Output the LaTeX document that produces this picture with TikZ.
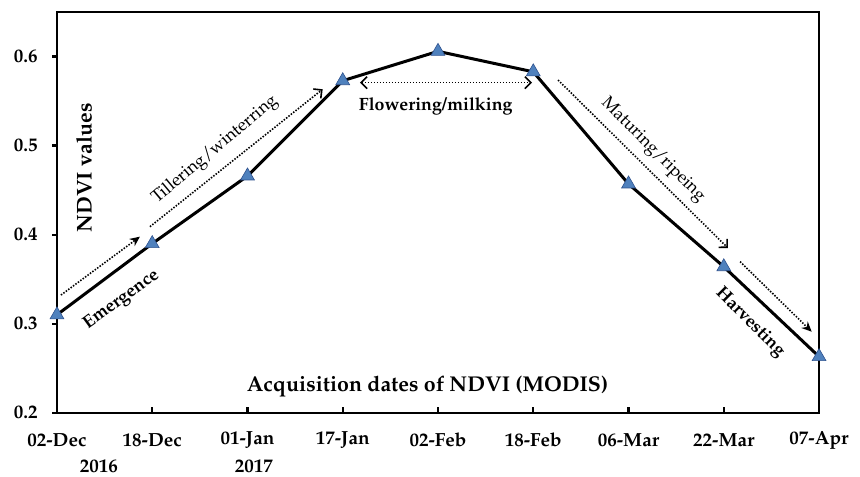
\documentclass[tikz,border=0pt]{standalone}
\usepackage[T1]{fontenc}
\usepackage{mathpazo}
\usetikzlibrary{arrows.meta,shapes.geometric}
\definecolor{markerblue}{RGB}{79,129,189}
\definecolor{markeredge}{RGB}{47,82,143}
\tikzset{
	axisline/.style={line width=1.2pt},
	ndviline/.style={line width=1.5pt, line join=round},
	marker/.style={regular polygon, regular polygon sides=3, minimum size=8pt, inner sep=0pt,
		fill=markerblue, draw=markeredge, line width=0.3pt},
	phase/.style={line width=0.8pt, dash pattern=on 0.75pt off 0.75pt},
	solidtip/.style={-{Stealth[length=5pt,width=4.5pt]}},
	opentip/.style={-{Straight Barb[length=3pt,width=6pt,line width=0.8pt]}},
	bothtip/.style={{Straight Barb[length=3pt,width=6pt,line width=0.8pt]}-{Straight Barb[length=3pt,width=6pt,line width=0.8pt]}},
	ticklabel/.style={inner sep=0pt, font=\fontsize{9.5}{11}\selectfont\bfseries},
	phaselabel/.style={inner sep=0pt, font=\fontsize{8.7}{10}\selectfont},
	boldlabel/.style={inner sep=0pt, font=\fontsize{8.9}{10}\selectfont\bfseries},
	axistitle/.style={inner sep=0pt, font=\fontsize{10.7}{13}\selectfont\bfseries}
}

\begin{document}
\begin{tikzpicture}[x=47.625pt, y=445pt]
		%%%%% START %%%%%
		\useasboundingbox (-0.598,0.1289) rectangle (8.430,0.6637);
		
		% frame and ticks
		\draw[axisline] (0,0.2) rectangle (8,0.65);
		\foreach \v [count=\i] in {0.2,0.3,0.4,0.5,0.6} {
			\draw[axisline] (0,\v) -- ++(-2.5pt,0);
			\node[ticklabel, anchor=east] (ylab\i) at (0,\v) [xshift=-9.5pt] {\v};
		}
		\foreach \d [count=\i from 0] in {02-Dec,18-Dec,01-Jan,17-Jan,02-Feb,18-Feb,06-Mar,22-Mar,07-Apr} {
			\draw[axisline] (\i,0.2) -- ++(0,3pt);
			\node[ticklabel] (xlab\i) at (\i,0.2) [yshift=-13.7pt] {\d};
		}
		\node[ticklabel] (yr16) at (0.441,0.2) [yshift=-27pt] {2016};
		\node[ticklabel] (yr17) at (2.068,0.2) [yshift=-27pt] {2017};
		
		\node[axistitle, rotate=90] (ytitle) at (0.283,0.475) {NDVI values};
		\node[axistitle] (xtitle) at (3.89,0.2289) {Acquisition dates of NDVI (MODIS)};
		
		% ndvi curve
		\foreach \v [count=\i from 0] in {0.310,0.390,0.466,0.573,0.606,0.583,0.457,0.364,0.263}
			\coordinate (p\i) at (\i,\v);
		\draw[ndviline] (p0) -- (p1) -- (p2) -- (p3) -- (p4) -- (p5) -- (p6) -- (p7) -- (p8);
		\foreach \i in {0,...,8}
			\node[marker] (m\i) at (p\i) {};
		
		% growth stages
		\coordinate (emS) at (0.042,0.3322);
		\coordinate (emE) at (0.871,0.3978);
		\coordinate (tiS) at (0.976,0.409);
		\coordinate (tiE) at (2.789,0.5634);
		\coordinate (flS) at (3.181,0.5708);
		\coordinate (flE) at (4.987,0.5708);
		\coordinate (maS) at (5.260,0.5738);
		\coordinate (maE) at (7.044,0.385);
		\coordinate (haS) at (7.171,0.3697);
		\coordinate (haE) at (7.923,0.291);
		
		\draw[phase, solidtip] (emS) -- (emE);
		\draw[phase, opentip] (tiS) -- (tiE);
		\draw[phase, bothtip] (flS) -- (flE);
		\draw[phase, opentip] (maS) -- (maE);
		\draw[phase, solidtip] (haS) -- (haE);
		
		\node[boldlabel, rotate=36] (emLab) at (0.679,0.3266) {Emergence};
		\node[phaselabel, rotate=40] (tiLab) at (1.659,0.4952) {Tillering/winterring};
		\node[boldlabel] (flLab) at (3.976,0.5446) {Flowering/milking};
		\node[phaselabel, rotate=-45] (maLab) at (6.257,0.4952) {Maturing/ripeing};
		\node[boldlabel, rotate=-45] (haLab) at (7.276,0.3008) {Harvesting};
		
		%%%%% END %%%%%
	\end{tikzpicture}
\end{document}
